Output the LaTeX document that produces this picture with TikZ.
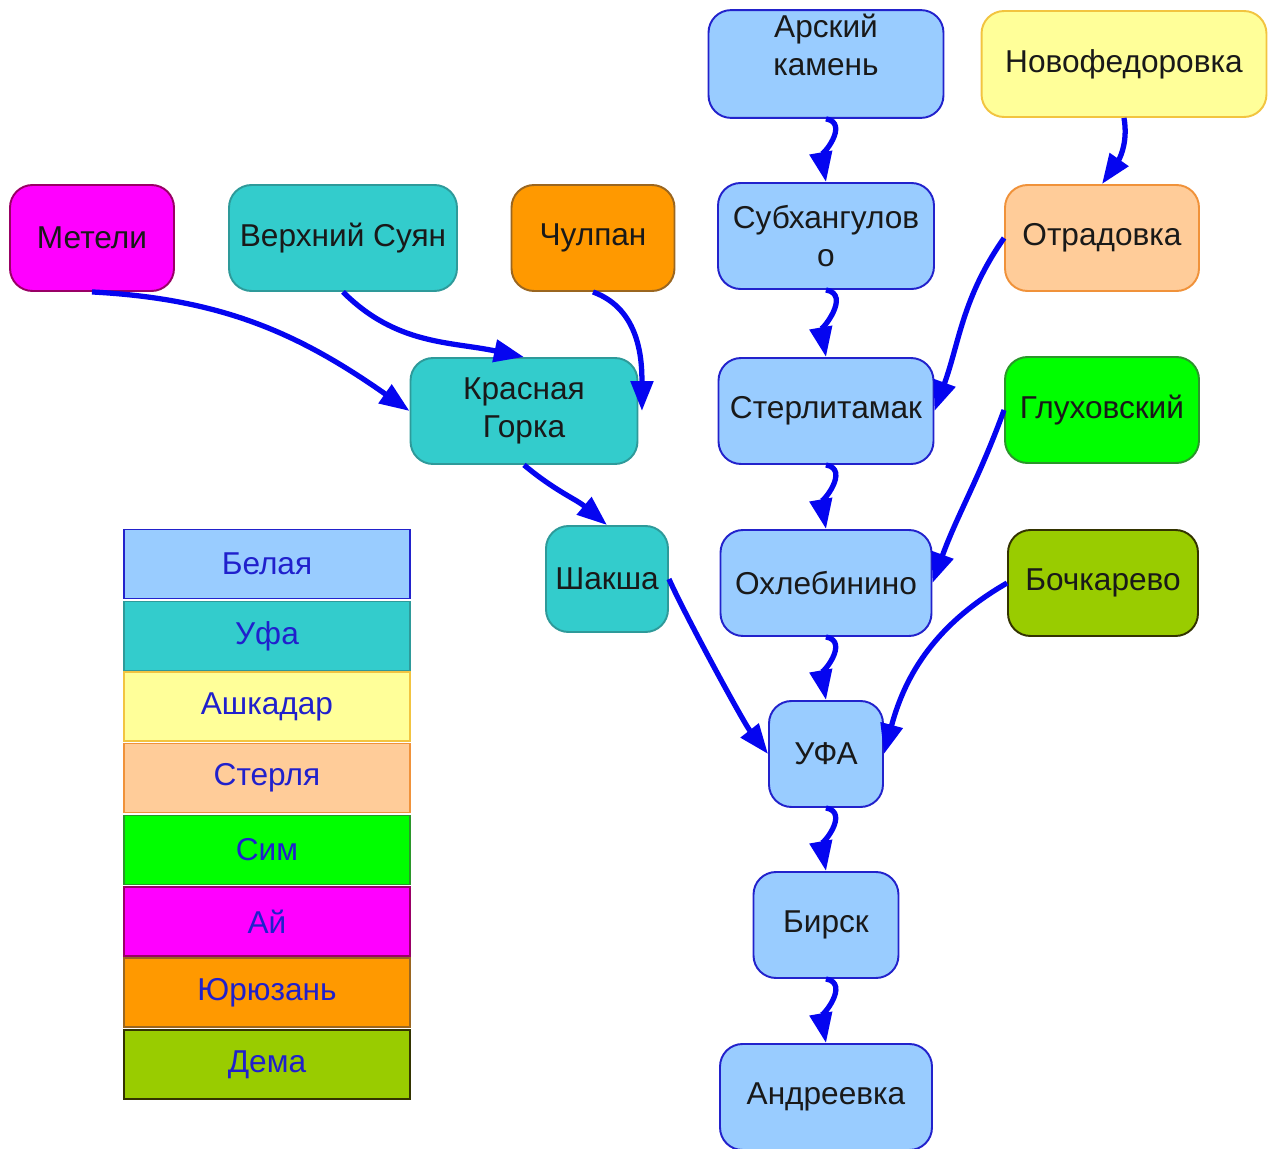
\documentclass[tikz,border=0pt]{standalone}
\usepackage{fontspec}
\setmainfont{Liberation Sans}
\usetikzlibrary{arrows.meta}

% Цвета рек
\definecolor{belfill}{HTML}{99CCFF} \definecolor{beldraw}{HTML}{2222CC}
\definecolor{ufafill}{HTML}{33CCCC} \definecolor{ufadraw}{HTML}{2E9A9A}
\definecolor{ashfill}{HTML}{FFFF99} \definecolor{ashdraw}{HTML}{F2C440}
\definecolor{stefill}{HTML}{FFCC99} \definecolor{stedraw}{HTML}{F0923A}
\definecolor{simfill}{HTML}{00FF00} \definecolor{simdraw}{HTML}{2A962A}
\definecolor{ayfill}{HTML}{FF00FF}  \definecolor{aydraw}{HTML}{990066}
\definecolor{yurfill}{HTML}{FF9900} \definecolor{yurdraw}{HTML}{9A6620}
\definecolor{demfill}{HTML}{99CC00} \definecolor{demdraw}{HTML}{333300}
\definecolor{strelka}{HTML}{0505F0}
\definecolor{legtext}{HTML}{2020CC}

\tikzset{
  punkt/.style={rounded corners=0.45cm, line width=1.1pt, minimum height=2.12cm,
    inner sep=2pt, align=center, text=black!90, font=\fontsize{18}{22}\selectfont},
  belaya/.style={punkt, fill=belfill, draw=beldraw},
  ufa/.style={punkt, fill=ufafill, draw=ufadraw},
  ashkadar/.style={punkt, fill=ashfill, draw=ashdraw},
  sterlya/.style={punkt, fill=stefill, draw=stedraw},
  sim/.style={punkt, fill=simfill, draw=simdraw},
  ay/.style={punkt, fill=ayfill, draw=aydraw},
  yuryuzan/.style={punkt, fill=yurfill, draw=yurdraw},
  dema/.style={punkt, fill=demfill, draw=demdraw},
  legenda/.style={minimum width=5.72cm, minimum height=1.38cm, inner sep=0pt,
    line width=1.1pt, text=legtext, font=\fontsize{18}{22}\selectfont},
  potok/.style={draw=strelka, line width=3pt,
    -{Triangle[length=0.6cm,width=0.44cm]}}
}

\begin{document}
\begin{tikzpicture}[x=0.02cm, y=-0.02cm]
      \useasboundingbox (0,0) rectangle (1276,1149);

      % Белая
      \node[belaya, minimum width=4.7cm]  (arsk)  at (826,  64) {Арский\\камень\\\mbox{}};
      \node[belaya, minimum width=4.32cm] (subh)  at (826, 236) {Субхангулов\\о};
      \node[belaya, minimum width=4.3cm]  (ster)  at (826, 411) {Стерлитамак};
      \node[belaya, minimum width=4.22cm] (ohleb) at (826, 583) {Охлебинино};
      \node[belaya, minimum width=2.28cm] (ufa)   at (826, 754) {УФА};
      \node[belaya, minimum width=2.9cm]  (birsk) at (826, 925) {Бирск};
      \node[belaya, minimum width=4.24cm] (andr)  at (826,1097) {Андреевка};

      % Притоки
      \node[ashkadar, minimum width=5.7cm]  (novof) at (1124, 64) {Новофедоровка};
      \node[sterlya,  minimum width=3.88cm] (otrad) at (1102,238) {Отрадовка};
      \node[sim,      minimum width=3.88cm] (gluh)  at (1102,410) {Глуховский};
      \node[dema,     minimum width=3.8cm]  (bochk) at (1103,583) {Бочкарево};

      % Уфа и её притоки
      \node[ay,       minimum width=3.28cm] (metel) at ( 92,238) {Метели};
      \node[ufa,      minimum width=4.56cm] (suyan) at (343,238) {Верхний Суян};
      \node[yuryuzan, minimum width=3.26cm] (chulp) at (593,238) {Чулпан};
      \node[ufa,      minimum width=4.54cm] (kras)  at (524,411) {Красная\\Горка};
      \node[ufa,      minimum width=2.44cm] (shakh) at (607,579) {Шакша};

      % Стрелки по Белой
      \draw[potok] (arsk.south)  to[out=-10, in=100] (subh.north);
      \draw[potok] (subh.south)  to[out=-10, in=100] (ster.north);
      \draw[potok] (ster.south)  to[out=-10, in=100] (ohleb.north);
      \draw[potok] (ohleb.south) to[out=-10, in=100] (ufa.north);
      \draw[potok] (ufa.south)   to[out=-10, in=100] (birsk.north);
      \draw[potok] (birsk.south) to[out=-10, in=100] (andr.north);

      % Стрелки притоков
      \draw[potok] (novof.south) to[out=-80, in=55]  (otrad.north);
      \draw[potok] (otrad.west)  to[out=-125, in=70] (ster.east);
      \draw[potok] (gluh.west)   to[out=-110, in=70] (ohleb.east);
      \draw[potok] (bochk.west)  to[out=-150, in=75] (ufa.east);

      \draw[potok] (metel.south) to[out=-3, in=145]  (kras.west);
      \draw[potok] (suyan.south) to[out=-45, in=168] (kras.north);
      \draw[potok] (chulp.south) to[out=-20, in=90]  ([xshift=2pt]kras.east);
      \draw[potok] (kras.south)  to[out=-40, in=140] (shakh.north);
      \draw[potok] (shakh.east)  to[out=-66, in=128, looseness=0.5] (ufa.west);

      % Легенда
      \node[legenda, fill=belfill, draw=beldraw] (lbel) at (267, 564) {Белая};
      \node[legenda, fill=ufafill, draw=ufadraw] (lufa) at (267, 636) {Уфа};
      \node[legenda, fill=ashfill, draw=ashdraw] (lash) at (267, 706.5) {Ашкадар};
      \node[legenda, fill=stefill, draw=stedraw] (lste) at (267, 778) {Стерля};
      \node[legenda, fill=simfill, draw=simdraw] (lsim) at (267, 850) {Сим};
      \node[legenda, fill=ayfill,  draw=aydraw]  (lay)  at (267, 921.5) {Ай};
      \node[legenda, fill=yurfill, draw=yurdraw] (lyur) at (267, 992.5) {Юрюзань};
      \node[legenda, fill=demfill, draw=demdraw] (ldem) at (267,1064.5) {Дема};

    \end{tikzpicture}
\end{document}
